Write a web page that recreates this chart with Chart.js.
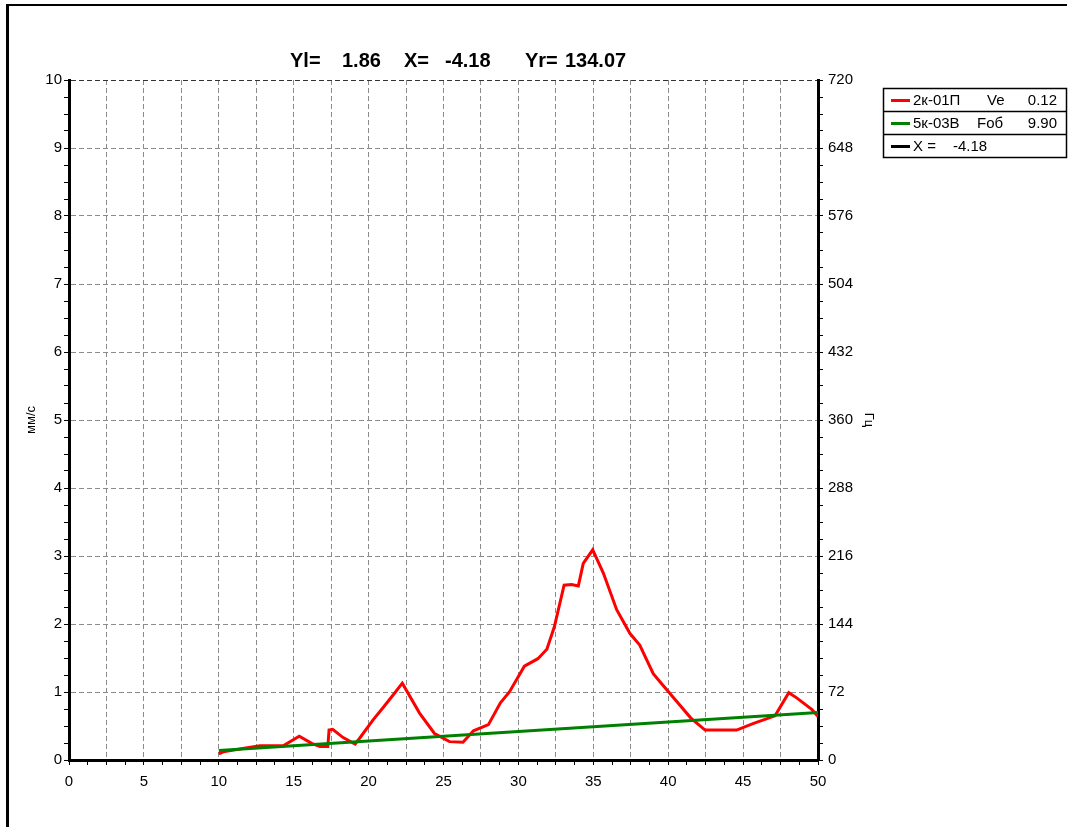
<!DOCTYPE html>
<html><head><meta charset="utf-8">
<script src="https://cdn.jsdelivr.net/npm/chart.js@4"></script>
<style>
html,body{margin:0;padding:0;background:#fff;}
#wrap{position:relative;width:1075px;height:827px;overflow:hidden;}
#frame{position:absolute;left:6px;top:4px;width:1061px;height:840px;border-top:2px solid #000;border-left:3px solid #000;box-sizing:border-box;pointer-events:none;}
canvas{position:absolute;left:0;top:0;}
</style></head><body>
<div id="wrap"><canvas id="c" width="1075" height="827"></canvas><div id="frame"></div></div>
<script>
// ---- data ----
const redX = [10, 10.3, 11.6, 12.75, 14.3, 15.37, 16.2, 16.75, 17.28, 17.36, 17.6, 18.3, 19.1, 19.4, 20.3, 21.0, 21.65, 22.25, 23.4, 24.4, 25.4, 26.3, 27.0, 28.0, 28.8, 29.4, 30.4, 31.3, 31.9, 32.4, 33.05, 33.55, 34.0, 34.33, 34.96, 35.67, 36.56, 37.45, 38.1, 39.0, 39.45, 40.3, 41.5, 42.46, 44.57, 45.7, 47.13, 48.05, 48.6, 49.6, 50];
const redY = [0.09, 0.12, 0.17, 0.21, 0.21, 0.35, 0.245, 0.2, 0.2, 0.44, 0.45, 0.33, 0.235, 0.32, 0.59, 0.78, 0.96, 1.13, 0.69, 0.39, 0.27, 0.26, 0.43, 0.52, 0.84, 1.0, 1.38, 1.49, 1.63, 1.96, 2.57, 2.58, 2.56, 2.89, 3.09, 2.75, 2.21, 1.86, 1.69, 1.27, 1.15, 0.93, 0.62, 0.44, 0.44, 0.54, 0.65, 0.99, 0.91, 0.74, 0.64];
const greenX = [10, 20, 30, 40, 50];
const greenY = [0.14, 0.28, 0.42, 0.56, 0.70];

const xLabelStep = 5;      // labelled x ticks
const xGridStep = 2.5;     // dashed x grid
const xMinorStep = 1.25;   // small tick marks
const yLeftLabelStep = 1;
const yLeftMinorStep = 0.25;
const yRightLabelStep = 72;
const yRightMinorStep = 18;

const titleParts = ['Yl=', '1.86', 'X=', '-4.18', 'Yr=', '134.07'];
const legendNames = ['2к-01П', '5к-03В', 'X ='];
const legendParams = ['Ve', 'Fоб', ''];
const legendValues = ['0.12', '9.90', '-4.18'];
const legendColors = ['#ff0000', '#008000', '#000000'];

const FONT = 'Arial, "Liberation Sans", sans-serif';
const isMult = (v, s) => Math.abs(v / s - Math.round(v / s)) < 1e-6;

const overlay = {
  id: 'overlay',
  afterDraw(chart) {
    const ctx = chart.ctx;
    ctx.save();
    // title
    ctx.fillStyle = '#000';
    ctx.font = 'bold 20px ' + FONT;
    ctx.textBaseline = 'alphabetic';
    ctx.textAlign = 'left';
    const tx = [290, 342, 404, 445, 525, 565];
    titleParts.forEach((t, i) => ctx.fillText(t, tx[i], 67));
    // legend box
    const L = 883, T = 88, W = 183, rowH = 23;
    ctx.strokeStyle = '#000';
    ctx.lineWidth = 1.5;
    ctx.strokeRect(L + 0.5, T + 0.5, W, rowH * 3);
    for (let i = 1; i < 3; i++) {
      ctx.beginPath();
      ctx.moveTo(L, T + 0.5 + rowH * i);
      ctx.lineTo(L + W, T + 0.5 + rowH * i);
      ctx.stroke();
    }
    ctx.font = '15px ' + FONT;
    for (let i = 0; i < 3; i++) {
      const cy = T + rowH * i + rowH / 2 + 1;
      ctx.strokeStyle = legendColors[i];
      ctx.lineWidth = 3;
      ctx.beginPath();
      ctx.moveTo(891, cy);
      ctx.lineTo(910, cy);
      ctx.stroke();
      ctx.fillStyle = '#000';
      ctx.textBaseline = 'middle';
      ctx.textAlign = 'left';
      ctx.fillText(legendNames[i], 913, cy);
      if (legendParams[i]) {
        ctx.fillText(legendParams[i], i === 0 ? 987 : 977, cy);
        ctx.textAlign = 'right';
        ctx.fillText(legendValues[i], 1057, cy);
      } else {
        ctx.fillText(legendValues[i], 953, cy);
      }
    }
    ctx.restore();
  }
};

new Chart(document.getElementById('c'), {
  type: 'line',
  data: {
    datasets: [
      {
        label: legendNames[1],
        data: greenX.map((x, i) => ({x, y: greenY[i]})),
        borderColor: '#008000', borderWidth: 3, pointRadius: 0, tension: 0,
        yAxisID: 'y', order: 0
      },
      {
        label: legendNames[0],
        data: redX.map((x, i) => ({x, y: redY[i]})),
        borderColor: '#ff0000', borderWidth: 3, pointRadius: 0, tension: 0,
        yAxisID: 'y', order: 1
      }
    ]
  },
  options: {
    responsive: false,
    animation: false,
    layout: {padding: {top: 80, left: 0, right: 197, bottom: 0}},
    plugins: {legend: {display: false}, tooltip: {enabled: false}, title: {display: false}},
    scales: {
      x: {
        type: 'linear', min: 0, max: 50, position: 'bottom',
        ticks: {
          stepSize: xMinorStep, autoSkip: false, maxRotation: 0, minRotation: 0,
          padding: 8, color: '#000', font: {family: FONT, size: 15},
          callback: v => isMult(v, xLabelStep) ? String(v) : ''
        },
        grid: {
          color: c => (c.tick && isMult(c.tick.value, xGridStep)) ? '#8a8a8a' : 'rgba(0,0,0,0)',
          tickColor: '#000', tickLength: 5, lineWidth: 1
        },
        border: {display: true, color: '#000', width: 3, dash: [5, 3]},
        afterFit: s => { s.height = 67; }
      },
      y: {
        type: 'linear', min: 0, max: 10, position: 'left',
        ticks: {
          stepSize: yLeftMinorStep, autoSkip: false,
          padding: 2, color: '#000', font: {family: FONT, size: 15},
          callback: v => isMult(v, yLeftLabelStep) ? String(v) : ''
        },
        grid: {
          color: c => {
            if (!c.tick) return '#8a8a8a';
            if (c.tick.value === 10) return '#333';
            return isMult(c.tick.value, yLeftLabelStep) ? '#8a8a8a' : 'rgba(0,0,0,0)';
          },
          tickColor: '#000', tickLength: 5, lineWidth: 1
        },
        border: {display: true, color: '#000', width: 3, dash: [5, 3]},
        title: {display: true, text: 'мм/с', color: '#000', font: {family: FONT, size: 13}, padding: {top: 24, bottom: 0}},
        afterFit: s => { s.width = 69; }
      },
      y2: {
        type: 'linear', min: 0, max: 720, position: 'right',
        ticks: {
          stepSize: yRightMinorStep, autoSkip: false,
          padding: 5, color: '#000', font: {family: FONT, size: 15},
          callback: v => isMult(v, yRightLabelStep) ? String(v) : ''
        },
        grid: {drawOnChartArea: false, tickColor: '#000', tickLength: 5, color: '#000'},
        border: {display: true, color: '#000', width: 3},
        title: {display: true, text: 'Гц', color: '#000', font: {family: FONT, size: 13}, padding: {top: 2, bottom: 0}},
        afterFit: s => { s.width = 60; }
      }
    }
  },
  plugins: [overlay]
});
</script>
</body></html>
